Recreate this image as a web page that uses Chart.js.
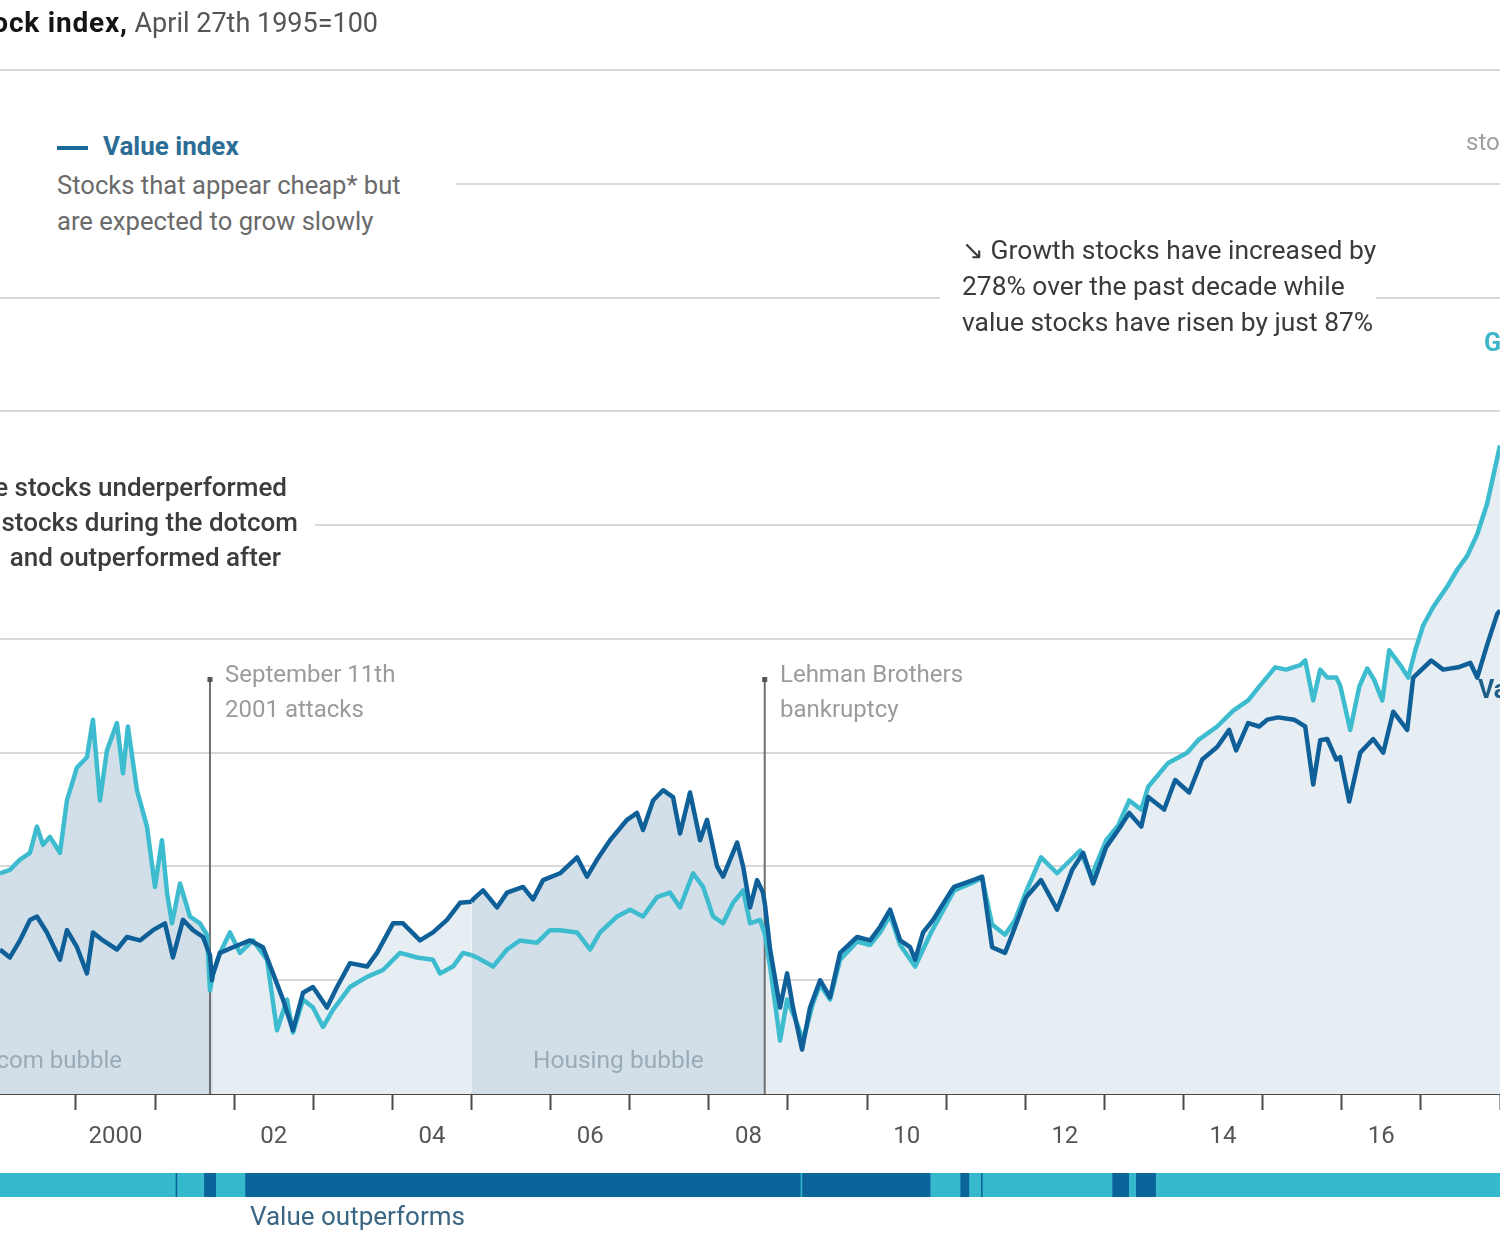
<!DOCTYPE html>
<html><head><meta charset="utf-8">
<script src="https://cdn.jsdelivr.net/npm/chart.js@4.4.1/dist/chart.umd.min.js"></script>
<style>
html,body{margin:0;padding:0;background:#fff;overflow:hidden;}
#wrap{position:relative;width:1500px;height:1250px;overflow:hidden;font-family:Roboto,"Open Sans",sans-serif;background:#fff;}
#wrap canvas{position:absolute;left:0;top:0;}
.t{position:absolute;white-space:nowrap;}
.box{position:absolute;background:#fff;}
</style></head><body>
<div id="wrap">
<canvas id="c" width="1500" height="1250"></canvas>

<div class="t" style="right:1122px;top:5px;font-size:27px;line-height:36px;"><span style="color:#141414;font-weight:700;font-size:28px;letter-spacing:0.8px">Stock index,</span> <span style="color:#555">April 27th 1995=100</span></div>

<div class="box" style="left:0;top:118px;width:456px;height:124px;"></div>
<div style="position:absolute;left:57px;top:146px;width:31px;height:4px;background:#1c6a9b"></div>
<div class="t" style="left:103px;top:128px;font-size:26px;line-height:36px;font-weight:700;color:#2b6d95">Value index</div>
<div class="t" style="left:57px;top:167px;font-size:25.6px;line-height:36px;color:#6a6a6a">Stocks that appear cheap* but<br>are expected to grow slowly</div>
<div class="t" style="left:1466px;top:124px;font-size:24px;line-height:36px;color:#a0a0a0">stocks</div>

<div class="box" style="left:940px;top:234px;width:436px;height:104px;"></div>
<div class="t" style="left:962px;top:232px;font-size:26.4px;line-height:36px;color:#3a3a3a">↘ Growth stocks have increased by<br>278% over the past decade while<br>value stocks have risen by just 87%</div>

<div class="box" style="left:0;top:470px;width:315px;height:104px;"></div>
<div class="t" style="right:1213px;top:469px;font-size:26px;line-height:36px;font-weight:500;color:#3c3c3c">↘ Value stocks underperformed</div>
<div class="t" style="right:1202px;top:504px;font-size:26px;line-height:36px;font-weight:500;color:#3c3c3c">growth stocks during the dotcom</div>
<div class="t" style="right:1219px;top:539px;font-size:26px;line-height:36px;font-weight:500;color:#3c3c3c">bubble&nbsp; and outperformed after</div>

<div class="t" style="left:225px;top:657px;font-size:24px;line-height:35px;color:#9b9b9b">September 11th<br>2001 attacks</div>
<div class="t" style="left:780px;top:657px;font-size:24px;line-height:35px;color:#9b9b9b">Lehman Brothers<br>bankruptcy</div>

<div class="t" style="right:1378px;top:1043px;font-size:24px;line-height:34px;color:#9aabb7">Dotcom bubble</div>
<div class="t" style="left:533px;top:1043px;font-size:24.5px;line-height:34px;color:#9aabb7">Housing bubble</div>

<div class="t" style="left:250px;top:1198px;font-size:26px;line-height:36px;color:#3a6684">Value outperforms</div>

<div class="t" style="left:1484px;top:325px;font-size:25px;line-height:36px;font-weight:700;color:#3cb6c9">Growth</div>
<div class="t" style="left:1478px;top:672px;font-size:25px;line-height:36px;font-weight:700;color:#1f5e86">Value</div>
</div>

<script>
// ---------------- data ----------------
const growthDates = [1999.04,1999.165,1999.292,1999.419,1999.507,1999.583,1999.671,1999.798,1999.886,2000.013,
 2000.139,2000.215,2000.303,2000.392,2000.518,2000.594,2000.657,2000.771,2000.898,2000.999,
 2001.087,2001.151,2001.214,2001.315,2001.441,2001.568,2001.656,2001.694,2001.73,2001.82,
 2001.947,2002.073,2002.238,2002.415,2002.541,2002.668,2002.743,2002.87,2002.996,2003.123,
 2003.249,2003.464,2003.679,2003.881,2004.096,2004.311,2004.513,2004.602,2004.766,2004.893,
 2005.0,2005.07,2005.272,2005.449,2005.613,2005.828,2005.992,2006.119,2006.334,2006.498,
 2006.625,2006.84,2007.004,2007.168,2007.345,2007.509,2007.636,2007.8,2007.927,2008.053,
 2008.18,2008.306,2008.433,2008.521,2008.648,2008.71,2008.774,2008.9,2008.989,2009.115,
 2009.191,2009.317,2009.406,2009.532,2009.659,2009.874,2010.038,2010.165,2010.291,2010.418,
 2010.607,2010.809,2011.1,2011.34,2011.454,2011.58,2011.744,2011.871,2012.01,2012.199,
 2012.402,2012.693,2012.832,2013.022,2013.174,2013.313,2013.465,2013.553,2013.806,2014.046,
 2014.185,2014.425,2014.628,2014.817,2014.956,2015.158,2015.297,2015.474,2015.538,2015.639,
 2015.728,2015.816,2015.93,2015.98,2016.107,2016.221,2016.322,2016.41,2016.512,2016.6,
 2016.739,2016.84,2016.929,2017.03,2017.156,2017.333,2017.46,2017.586,2017.712,2017.838,
 2018.0];
const growthIndex = [194,197,206,212,235,219,226,212,258,287,
 296,329,258,302,326,282,323,267,235,182,
 223,177,150,185,156,150,140,91,105,124,
 142,124,135,118,56,83,54,83,76,59,
 74,94,103,109,124,120,118,106,112,124,
 122,120,112,127,135,133,144,144,142,127,
 142,156,162,156,173,177,164,194,182,156,
 150,168,179,150,153,140,112,47,83,62,
 47,80,96,83,118,134,131,142,157,131,
 112,142,179,186,190,149,140,153,178,208,
 194,214,191,223,236,258,250,270,291,300,
 311,323,337,346,358,375,373,377,381,346,
 373,366,366,359,320,358,374,364,346,390,
 377,366,390,412,428,446,461,473,492,519,
 570];

const valueDates = [1999.04,1999.165,1999.292,1999.419,1999.507,1999.633,1999.798,1999.886,2000.013,2000.139,
 2000.215,2000.341,2000.518,2000.645,2000.809,2000.974,2001.125,2001.226,2001.353,2001.479,
 2001.606,2001.694,2001.719,2001.73,2001.82,2001.985,2002.2,2002.364,2002.491,2002.617,
 2002.743,2002.87,2002.996,2003.173,2003.3,2003.464,2003.679,2003.805,2004.008,2004.134,
 2004.349,2004.513,2004.69,2004.855,2005.0,2005.019,2005.146,2005.322,2005.449,2005.651,
 2005.777,2005.904,2006.119,2006.334,2006.46,2006.587,2006.751,2006.966,2007.092,2007.168,
 2007.295,2007.421,2007.547,2007.636,2007.762,2007.889,2007.977,2008.104,2008.18,2008.357,
 2008.433,2008.521,2008.61,2008.685,2008.71,2008.774,2008.9,2008.989,2009.064,2009.178,
 2009.279,2009.406,2009.532,2009.659,2009.874,2010.038,2010.165,2010.291,2010.418,2010.544,
 2010.607,2010.708,2010.834,2011.049,2011.1,2011.34,2011.454,2011.58,2011.744,2011.871,
 2012.01,2012.199,2012.402,2012.592,2012.731,2012.858,2013.022,2013.174,2013.313,2013.465,
 2013.553,2013.755,2013.894,2014.071,2014.236,2014.425,2014.577,2014.665,2014.817,2014.956,
 2015.057,2015.196,2015.398,2015.538,2015.639,2015.728,2015.816,2015.93,2015.98,2016.094,
 2016.233,2016.397,2016.524,2016.65,2016.827,2016.903,2017.131,2017.282,2017.472,2017.624,
 2017.712,2017.838,2017.965,2018.0];
const valueIndex = [127,120,135,153,156,142,118,144,129,106,
 142,135,127,138,135,144,150,120,153,144,
 138,122,100,105,124,129,135,129,106,83,
 56,89,94,76,94,115,112,124,150,150,
 135,142,153,168,169,171,179,164,177,182,
 171,188,194,208,191,206,223,241,247,232,
 258,267,261,229,265,223,241,200,191,221,
 200,164,188,177,166,127,76,106,76,39,
 76,100,85,124,138,135,147,162,135,129,
 118,142,153,177,182,188,191,129,124,147,
 173,188,162,197,212,185,217,232,247,235,
 261,250,276,265,294,305,320,302,326,323,
 329,331,329,323,272,311,312,294,296,257,
 300,312,300,336,320,366,381,373,375,379,
 366,395,422,425];

// shaded bubble periods
const bubbleNames = ['Dotcom bubble','Housing bubble'];
const bubbleStart = [1998.5, 2005.0];
const bubbleEnd = [2001.73, 2008.71];

// events
const eventNames = ['September 11th 2001 attacks','Lehman Brothers bankruptcy'];
const eventDates = [2001.694, 2008.706];

// periods when value outperforms (bottom strip)
const valueOutperformStart = [2001.26, 2001.62, 2002.14, 2009.18, 2011.18, 2011.44, 2013.10, 2013.40];
const valueOutperformEnd   = [2001.28, 2001.77, 2009.16, 2010.80, 2011.29, 2011.46, 2013.31, 2013.65];

// axis
const xMin = 1999.04, xMax = 2018.0;
const tickYears = [2000,2001,2002,2003,2004,2005,2006,2007,2008,2009,2010,2011,2012,2013,2014,2015,2016,2017,2018];
const labelYears = [2000,2002,2004,2006,2008,2010,2012,2014,2016];
const labelTexts = ['2000','02','04','06','08','10','12','14','16'];
const yMin = 0, yMax = 900, yStep = 100;

// ---------------- styles ----------------
const growthColor = '#3dbccf';
const valueColor = '#0f6098';
const fillLight = '#e6edf3';
const fillDark = '#d3dfe8';
const barGrowth = '#36b9cd';
const barValue = '#0a6399';

function inBubble(t){
  for (let i=0;i<bubbleStart.length;i++){ if (t>=bubbleStart[i] && t<bubbleEnd[i]) return true; }
  return false;
}
const segFill = { backgroundColor: c => inBubble(c.p0.parsed.x) ? fillDark : fillLight };

const tickValues = tickYears.concat(labelYears.map(y=>y+0.5)).sort((a,b)=>a-b);

const overlayPlugin = {
  id:'overlay',
  beforeDatasetsDraw(chart){
    const {ctx, scales:{x}, chartArea} = chart;
    ctx.save();
    eventDates.forEach(d=>{
      const px = x.getPixelForValue(d);
      ctx.strokeStyle = '#6e6e6e'; ctx.lineWidth = 2;
      ctx.beginPath(); ctx.moveTo(px, 681); ctx.lineTo(px, chartArea.bottom); ctx.stroke();
      ctx.fillStyle = '#555'; ctx.fillRect(px-2.5, 677, 5, 5);
    });
    ctx.restore();
  },
  afterDraw(chart){
    const {ctx, scales:{x}, chartArea} = chart;
    ctx.save();
    ctx.fillStyle = barGrowth;
    ctx.fillRect(chartArea.left, 1173, chartArea.right-chartArea.left, 24);
    ctx.fillStyle = barValue;
    valueOutperformStart.forEach((s,i)=>{
      const a = x.getPixelForValue(s), b = x.getPixelForValue(valueOutperformEnd[i]);
      ctx.fillRect(a, 1173, Math.max(1.5, b-a), 24);
    });
    ctx.restore();
  }
};

new Chart(document.getElementById('c'), {
  type:'line',
  data:{
    datasets:[
      { label:'Value index', data: valueDates.map((d,i)=>({x:d, y:valueIndex[i]})),
        borderColor:valueColor, borderWidth:4.5, pointRadius:0, tension:0, borderJoinStyle:'round',
        fill:'origin', backgroundColor:fillLight, segment:segFill },
      { label:'Growth index', data: growthDates.map((d,i)=>({x:d, y:growthIndex[i]})),
        borderColor:growthColor, borderWidth:4.5, pointRadius:0, tension:0, borderJoinStyle:'round',
        fill:'origin', backgroundColor:fillLight, segment:segFill }
    ]
  },
  options:{
    responsive:false, animation:false, events:[],
    layout:{ padding:{ top:70, left:0, right:0, bottom:0 } },
    plugins:{ legend:{display:false}, tooltip:{enabled:false}, filler:{ drawTime:'beforeDatasetsDraw' } },
    scales:{
      x:{ type:'linear', min:xMin, max:xMax, position:'bottom', z:1,
        afterBuildTicks: s => { s.ticks = tickValues.map(v=>({value:v})); },
        afterFit: s => { s.height = 156; s.paddingLeft = 0; s.paddingRight = 0; },
        grid:{ drawOnChartArea:false, drawTicks:true, tickLength:16, tickWidth:2,
          tickColor: c => (c.tick && Number.isInteger(c.tick.value)) ? '#4a4a4a' : 'rgba(0,0,0,0)' },
        border:{ display:true, color:'#4a4a4a', width:2 },
        ticks:{ autoSkip:false, maxRotation:0, minRotation:0, padding:13, color:'#555',
          font:{ family:'Roboto', size:24 },
          callback: v => { const i = labelYears.indexOf(v-0.5); return (i>=0 && !Number.isInteger(v)) ? labelTexts[i] : ''; } }
      },
      y:{ min:yMin, max:yMax, position:'left',
        ticks:{ display:false, stepSize:yStep },
        grid:{ color:'#d9d9d9', lineWidth:2, drawTicks:false },
        border:{ display:false },
        afterFit: s => { s.width = 0; }
      }
    }
  },
  plugins:[overlayPlugin]
});
</script>
</body></html>
